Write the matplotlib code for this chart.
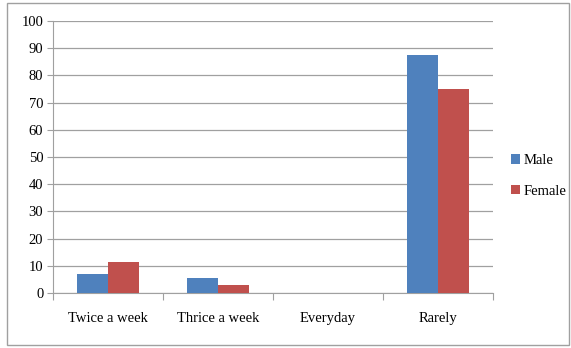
import matplotlib
matplotlib.use("Agg")
import matplotlib.pyplot as plt
import numpy as np
from matplotlib.patches import Rectangle

categories = ["Twice a week", "Thrice a week", "Everyday", "Rarely"]
male = [7.0, 5.4, 0, 87.4]
female = [11.4, 2.9, 0, 74.9]
series_names = ["Male", "Female"]

plt.rcParams['font.family'] = ['Liberation Serif', 'DejaVu Serif']

fig = plt.figure(figsize=(5.71, 3.48), dpi=100)
ax = fig.add_axes([53/571, 1-293/348, 440/571, 272/348])

x = np.arange(len(categories))
w = 0.28
ax.bar(x - w/2, male, w, color="#4F81BD", label=series_names[0], zorder=3)
ax.bar(x + w/2, female, w, color="#C0504D", label=series_names[1], zorder=3)

ax.set_xlim(-0.5, len(categories) - 0.5)
ax.set_ylim(0, 100)
ax.set_yticks(np.arange(0, 101, 10))
ax.yaxis.grid(True, color="#A0A0A0", linewidth=0.9, zorder=0)
ax.set_axisbelow(True)

ax.set_xticks(np.arange(-0.5, len(categories), 1.0))
ax.set_xticklabels([])
ax.set_xticks(x, minor=True)
ax.set_xticklabels(categories, minor=True)
ax.tick_params(axis='x', which='major', length=5, color="#A0A0A0", direction='out')
ax.tick_params(axis='x', which='minor', length=0, pad=14, labelsize=10.5)
ax.tick_params(axis='y', length=4, color="#A0A0A0", labelsize=10.5, pad=3)

for s in ["top", "right"]:
    ax.spines[s].set_visible(False)
ax.spines["left"].set_color("#A0A0A0")
ax.spines["bottom"].set_color("#A0A0A0")

leg = fig.legend(loc="center left", bbox_to_anchor=(511/571, 1-176/348), frameon=False,
                 fontsize=10.5, handlelength=0.6, handleheight=0.6, handletextpad=0.25,
                 labelspacing=1.2, borderpad=0, borderaxespad=0)

fig.patches.append(Rectangle((7/571, 3/348), 562/571, 342/348, transform=fig.transFigure,
                             fill=False, edgecolor="#A0A0A0", linewidth=1.0))

fig.savefig("out.png", dpi=100)
